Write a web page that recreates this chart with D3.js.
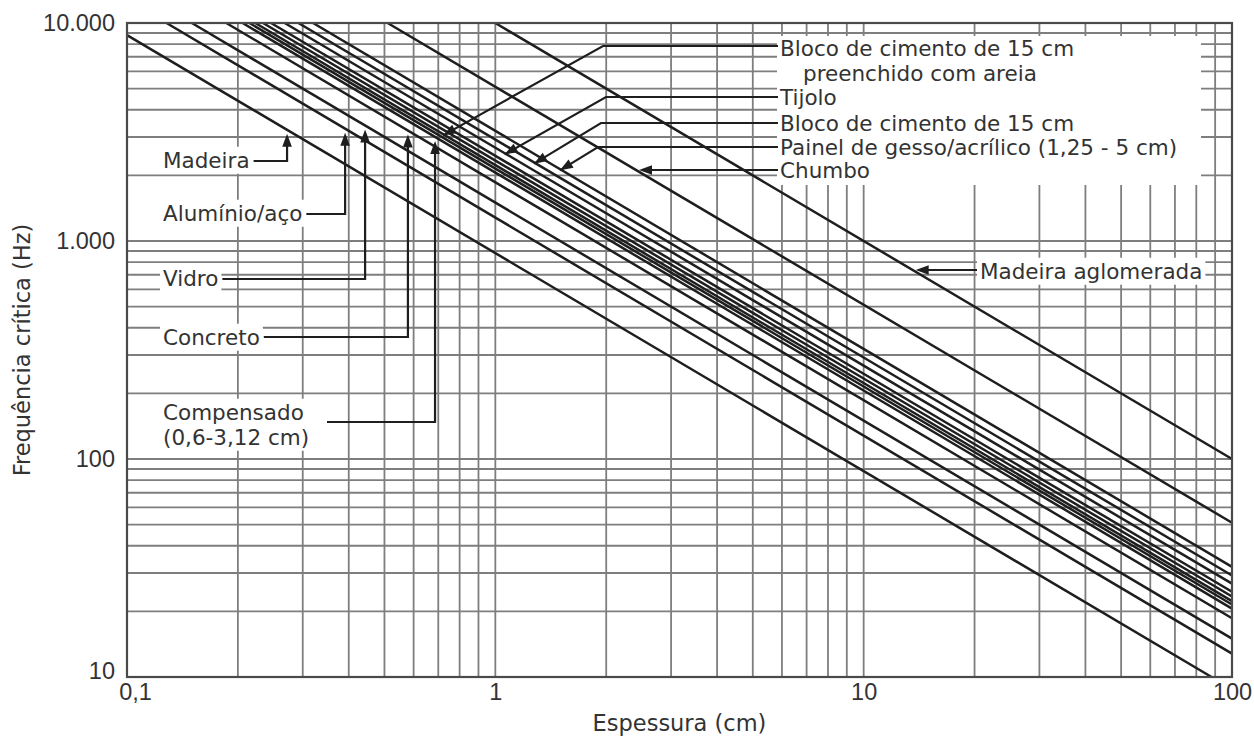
<!DOCTYPE html>
<html>
<head>
<meta charset="utf-8">
<script src="https://cdn.jsdelivr.net/npm/d3@7"></script>
<style>
  body { margin: 0; background: #fff; }
  svg { display: block; }
</style>
</head>
<body>
<div id="chart"></div>
<script>
// fc x espessura (Hz.cm) de cada reta
const materialLabels = [
    ["Madeira"], ["Alumínio/aço"], ["Vidro"], ["Concreto"], ["Compensado", "(0,6-3,12 cm)"],
    [], ["Bloco de cimento de 15 cm", "preenchido com areia"], [], [],
    ["Tijolo"], ["Bloco de cimento de 15 cm"], ["Painel de gesso/acrílico (1,25 - 5 cm)"],
    ["Chumbo"], ["Madeira aglomerada"]
];
const fcTimesThickness = [880, 1280, 1500, 1860, 2060, 2150, 2230, 2340, 2460, 2680, 2920, 3200, 5100, 10000];

// setas: material apontado e espessura (cm) onde a seta toca a reta
const leftPointerMaterial = [0, 1, 2, 3, 4];
const leftPointerAt = [0.272, 0.391, 0.443, 0.579, 0.686];
const rightPointerMaterial = [6, 9, 10, 11];
const rightPointerAt = [0.708, 1.04, 1.25, 1.47];

const xTickValues = [0.1, 1, 10, 100];
const xTickLabels = ["0,1", "1", "10", "100"];
const yTickValues = [10, 100, 1000, 10000];
const yTickLabels = ["10", "100", "1.000", "10.000"];

const W = 1254, H = 738;
const plot = { left: 127, right: 1232, top: 23, bottom: 677 };
const gridColor = "#7e7e7e";
const ink = "#1e1e1e";
const textColor = "#333";
const labelFont = "DejaVu Sans";
const labelSize = 21.5;

const svg = d3.select("#chart").append("svg")
    .attr("width", W)
    .attr("height", H);

const x = d3.scaleLog().domain([0.1, 100]).range([plot.left, plot.right]);
const y = d3.scaleLog().domain([10, 10000]).range([plot.bottom, plot.top]);

// grade log
const grid = svg.append("g");
grid.selectAll(".gx").data(x.ticks()).join("line")
    .attr("class", "gx")
    .attr("x1", d => x(d)).attr("x2", d => x(d))
    .attr("y1", plot.top).attr("y2", plot.bottom)
    .attr("stroke", gridColor).attr("stroke-width", 1.8);
grid.selectAll(".gy").data(y.ticks()).join("line")
    .attr("class", "gy")
    .attr("x1", plot.left).attr("x2", plot.right)
    .attr("y1", d => y(d)).attr("y2", d => y(d))
    .attr("stroke", gridColor).attr("stroke-width", 1.8);

// retas fc = K / espessura
const lineGen = d3.line().x(d => x(d[0])).y(d => y(d[1]));
svg.append("g").selectAll("path").data(fcTimesThickness).join("path")
    .attr("d", k => {
        const t0 = Math.max(0.1, k / 10000), t1 = Math.min(100, k / 10);
        return lineGen([[t0, k / t0], [t1, k / t1]]);
    })
    .attr("fill", "none").attr("stroke", ink).attr("stroke-width", 2.5);

svg.append("rect")
    .attr("x", plot.left).attr("y", plot.top)
    .attr("width", plot.right - plot.left).attr("height", plot.bottom - plot.top)
    .attr("fill", "none").attr("stroke", "#4a4a4a").attr("stroke-width", 2.2);

// eixos
const xAxis = d3.axisBottom(x).tickValues(xTickValues)
    .tickFormat((d, i) => xTickLabels[i]).tickSize(0).tickPadding(6);
svg.append("g")
    .attr("transform", `translate(0,${plot.bottom})`)
    .call(xAxis)
    .call(g => g.select(".domain").remove())
    .attr("font-family", "Liberation Sans").attr("font-size", 23.5)
    .selectAll("text").attr("fill", textColor)
    .attr("dx", (d, i) => i === 0 ? 8 : 0);

const yAxis = d3.axisLeft(y).tickValues(yTickValues)
    .tickFormat((d, i) => yTickLabels[i]).tickSize(0).tickPadding(12);
svg.append("g")
    .attr("transform", `translate(${plot.left},0)`)
    .call(yAxis)
    .call(g => g.select(".domain").remove())
    .attr("font-family", "Liberation Sans").attr("font-size", 23.5)
    .selectAll("text").attr("fill", textColor)
    .attr("dy", (d, i) => i === 0 ? "0.05em" : "0.32em");

svg.append("text")
    .attr("x", (plot.left + plot.right) / 2).attr("y", 723)
    .attr("dy", "0.35em").attr("text-anchor", "middle")
    .attr("font-family", labelFont).attr("font-size", 22.5).attr("fill", textColor)
    .text("Espessura (cm)");
svg.append("text")
    .attr("transform", `translate(22,${(plot.top + plot.bottom) / 2}) rotate(-90)`)
    .attr("dy", "0.35em").attr("text-anchor", "middle")
    .attr("font-family", labelFont).attr("font-size", 22.5).attr("fill", textColor)
    .text("Frequência crítica (Hz)");

// setas
const notes = svg.append("g");
const arrowHead = (tip, from, len = 13, half = 4.8) => {
    const a = Math.atan2(tip[1] - from[1], tip[0] - from[0]);
    const bx = tip[0] - len * Math.cos(a), by = tip[1] - len * Math.sin(a);
    const px = -Math.sin(a) * half, py = Math.cos(a) * half;
    notes.append("path")
        .attr("d", `M${tip[0]},${tip[1]}L${bx + px},${by + py}L${bx - px},${by - py}Z`)
        .attr("fill", ink);
};
const leader = pts => notes.append("path")
    .attr("d", d3.line()(pts))
    .attr("fill", "none").attr("stroke", ink).attr("stroke-width", 2.2);

const addText = (g, lines, tx, tys, indent = []) => {
    const texts = lines.map((s, i) => g.append("text")
        .attr("x", tx + (indent[i] || 0)).attr("y", tys[i]).attr("dy", "0.36em")
        .attr("font-family", labelFont).attr("font-size", labelSize).attr("fill", textColor)
        .text(s));
    return texts;
};

// rótulos da esquerda
const leftLayout = [
    { ty: [160], ly: 161 },
    { ty: [213], ly: 214 },
    { ty: [278], ly: 279 },
    { ty: [337], ly: 337 },
    { ty: [412, 437], ly: 422, lx: 327 }
];
leftPointerMaterial.forEach((m, i) => {
    const lay = leftLayout[i];
    const g = notes.append("g");
    const texts = addText(g, materialLabels[m], 163, lay.ty);
    const boxes = texts.map(t => t.node().getBBox());
    const x0 = d3.min(boxes, b => b.x), x1 = d3.max(boxes, b => b.x + b.width);
    const y0 = d3.min(boxes, b => b.y), y1 = d3.max(boxes, b => b.y + b.height);
    g.insert("rect", "text").attr("x", x0 - 3).attr("y", y0 - 1)
        .attr("width", x1 - x0 + 6).attr("height", y1 - y0 + 2).attr("fill", "#fff");
    const t = leftPointerAt[i], k = fcTimesThickness[m];
    const tip = [x(t), y(k / t) + 4];
    const start = lay.lx || d3.max(boxes, b => b.x + b.width) + 4;
    leader([[start, lay.ly], [tip[0], lay.ly], [tip[0], tip[1] + 8]]);
    arrowHead(tip, [tip[0], lay.ly]);
});

// caixa de rótulos da direita
const rg = notes.append("g");
rg.append("rect").attr("x", 777).attr("y", 36).attr("width", 424).attr("height", 149).attr("fill", "#fff");
addText(rg, materialLabels[6], 780, [48, 73], [0, 23]);
addText(rg, materialLabels[9], 780, [97]);
addText(rg, materialLabels[10], 780, [123]);
addText(rg, materialLabels[11], 780, [147]);
addText(rg, materialLabels[12], 780, [170]);

const rightLayout = [
    { ly: 46, ex: 603 },
    { ly: 97, ex: 606 },
    { ly: 123, ex: 601 },
    { ly: 147, ex: 598 }
];
rightPointerMaterial.forEach((m, i) => {
    const lay = rightLayout[i];
    const t = rightPointerAt[i], k = fcTimesThickness[m];
    const tip = [x(t) + 3, y(k / t) + 3];
    leader([[778, lay.ly], [lay.ex, lay.ly], tip]);
    arrowHead(tip, [lay.ex, lay.ly]);
});

// setas horizontais (Chumbo, Madeira aglomerada)
const horizontal = [{ m: 12, ly: 170, from: 778 }, { m: 13, ly: 270, from: 977 }];
horizontal.forEach(h => {
    const k = fcTimesThickness[h.m];
    const tip = [x(k / y.invert(h.ly)) + 3, h.ly];
    leader([[h.from, h.ly], [tip[0] + 8, h.ly]]);
    arrowHead(tip, [h.from, h.ly]);
});

const ag = notes.append("g");
const agText = addText(ag, materialLabels[13], 980, [271]);
const agBox = agText[0].node().getBBox();
ag.insert("rect", "text").attr("x", agBox.x - 3).attr("y", agBox.y - 1)
    .attr("width", agBox.width + 6).attr("height", agBox.height + 2).attr("fill", "#fff");
</script>
</body>
</html>
